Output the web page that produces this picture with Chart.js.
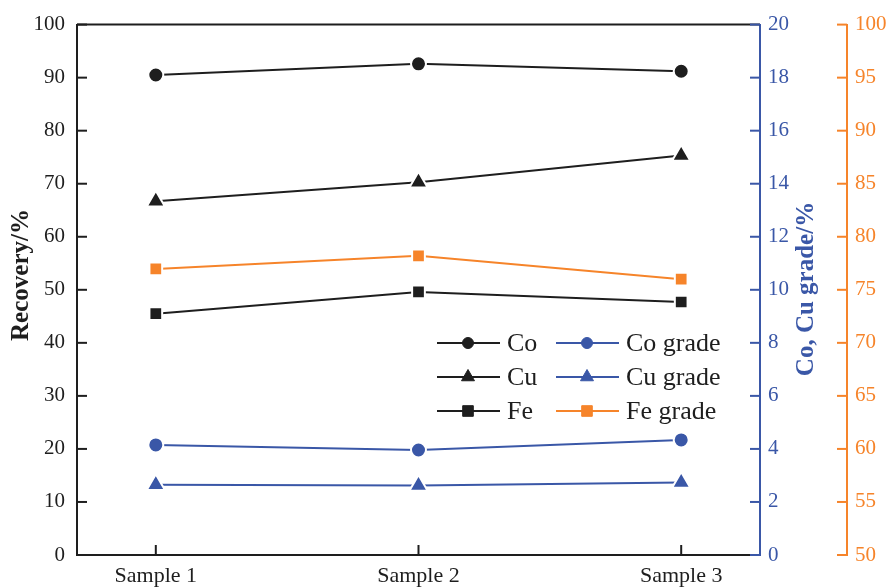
<!DOCTYPE html>
<html>
<head>
<script src="https://cdn.jsdelivr.net/npm/chart.js"></script>
<style>
  html, body { margin: 0; padding: 0; background: #fff; }
  #wrap { width: 895px; height: 587px; }
</style>
</head>
<body>
<div id="wrap"><canvas id="chart"></canvas></div>
<script>
  // data
  const samples = ['Sample 1', 'Sample 2', 'Sample 3'];
  const coRecovery = [90.5, 92.6, 91.2];
  const cuRecovery = [66.7, 70.3, 75.3];
  const feRecovery = [45.5, 49.6, 47.7];
  const coGrade = [4.15, 3.96, 4.34];
  const cuGrade = [2.65, 2.62, 2.73];
  const feGrade = [76.97, 78.2, 76.0];

  const BLACK = '#1e1e1e';
  const BLUE = '#3a57a7';
  const ORANGE = '#f6842a';
  const FONT = "'Liberation Serif', 'DejaVu Serif', serif";

  const pts = arr => arr.map((v, i) => ({ x: i, y: v }));

  function series(label, data, color, style, radius, axis) {
    return {
      label: label,
      data: pts(data),
      yAxisID: axis,
      borderColor: color,
      backgroundColor: color,
      borderWidth: 2,
      pointStyle: style,
      pointRadius: radius,
      pointHoverRadius: radius,
      pointBackgroundColor: color,
      pointBorderColor: '#fff',
      pointBorderWidth: 2,
      tension: 0
    };
  }

  // where the legend rows sit inside the plot
  const legendItems = [
    { ds: 0, col: 0, row: 0 }, { ds: 1, col: 0, row: 1 }, { ds: 2, col: 0, row: 2 },
    { ds: 3, col: 1, row: 0 }, { ds: 4, col: 1, row: 1 }, { ds: 5, col: 1, row: 2 }
  ];

  const axisDeco = {
    id: 'axisDeco',
    afterDraw(chart) {
      const { ctx, chartArea: ca, scales } = chart;
      const tick = 10;
      const line = (x1, y1, x2, y2, c) => {
        ctx.strokeStyle = c;
        ctx.beginPath(); ctx.moveTo(x1, y1); ctx.lineTo(x2, y2); ctx.stroke();
      };
      ctx.save();
      ctx.lineWidth = 2;
      // top frame
      line(ca.left, ca.top, ca.right, ca.top, BLACK);
      // inward tick marks
      scales.y.ticks.forEach(t => {
        const p = scales.y.getPixelForValue(t.value);
        line(ca.left, p, ca.left + tick, p, BLACK);
      });
      scales.yGrade.ticks.forEach(t => {
        const p = scales.yGrade.getPixelForValue(t.value);
        line(scales.yGrade.left - tick, p, scales.yGrade.left, p, BLUE);
      });
      scales.yFe.ticks.forEach(t => {
        const p = scales.yFe.getPixelForValue(t.value);
        line(scales.yFe.left - tick, p, scales.yFe.left, p, ORANGE);
      });
      scales.x.ticks.forEach(t => {
        const p = scales.x.getPixelForValue(t.value);
        line(p, ca.bottom, p, ca.bottom - tick, BLACK);
      });

      // axis titles (both read bottom-to-top)
      ctx.font = 'bold 25px ' + FONT;
      ctx.textAlign = 'center';
      ctx.textBaseline = 'middle';
      ctx.save();
      ctx.translate(22, 275);
      ctx.rotate(-Math.PI / 2);
      ctx.fillStyle = BLACK;
      ctx.fillText('Recovery/%', 0, 0);
      ctx.restore();
      ctx.save();
      ctx.translate(807, 289);
      ctx.rotate(-Math.PI / 2);
      ctx.fillStyle = BLUE;
      ctx.fillText('Co, Cu grade/%', 0, 0);
      ctx.restore();

      // legend
      const colX = [437, 556];
      const rowY = [343, 377, 411];
      ctx.font = '26px ' + FONT;
      ctx.textAlign = 'left';
      legendItems.forEach(it => {
        const d = chart.data.datasets[it.ds];
        const x = colX[it.col], y = rowY[it.row];
        line(x, y, x + 63, y, d.borderColor);
        ctx.fillStyle = d.borderColor;
        ctx.strokeStyle = d.borderColor;
        ctx.lineWidth = 1;
        Chart.helpers.drawPoint(ctx, { pointStyle: d.pointStyle, radius: d.pointStyle === 'circle' ? 5.5 : 7.5, borderWidth: 1 }, x + 31, y);
        ctx.lineWidth = 2;
        ctx.fillStyle = BLACK;
        ctx.fillText(d.label, x + 70, y + 1);
      });
      ctx.restore();
    }
  };

  new Chart(document.getElementById('chart'), {
    type: 'line',
    data: {
      datasets: [
        series('Co', coRecovery, BLACK, 'circle', 7.5, 'y'),
        series('Cu', cuRecovery, BLACK, 'triangle', 10.5, 'y'),
        series('Fe', feRecovery, BLACK, 'rect', 9, 'y'),
        series('Co grade', coGrade, BLUE, 'circle', 7.5, 'yGrade'),
        series('Cu grade', cuGrade, BLUE, 'triangle', 10.5, 'yGrade'),
        series('Fe grade', feGrade, ORANGE, 'rect', 9, 'yFe')
      ]
    },
    options: {
      responsive: true,
      maintainAspectRatio: false,
      animation: false,
      layout: { padding: { top: 22, left: 0, right: 0, bottom: 0 } },
      plugins: { legend: { display: false }, tooltip: { enabled: false } },
      scales: {
        x: {
          type: 'linear',
          min: -0.3,
          max: 2.3,
          afterBuildTicks: s => { s.ticks = samples.map((_, i) => ({ value: i })); },
          afterFit: s => { s.height = 32; },
          grid: { display: false, drawTicks: false },
          border: { display: true, color: BLACK, width: 2 },
          ticks: {
            callback: v => samples[v],
            color: BLACK,
            padding: 8,
            maxRotation: 0,
            font: { family: FONT, size: 22 }
          }
        },
        y: {
          position: 'left',
          min: 0, max: 100,
          afterFit: s => { s.width = 77; },
          grid: { display: false, drawTicks: false },
          border: { display: true, color: BLACK, width: 2 },
          ticks: { stepSize: 10, color: BLACK, padding: 12, font: { family: FONT, size: 21 } }
        },
        yGrade: {
          position: 'right',
          min: 0, max: 20,
          afterFit: s => { s.width = 87; },
          grid: { display: false, drawTicks: false },
          border: { display: true, color: BLUE, width: 2 },
          ticks: { stepSize: 2, color: BLUE, padding: 8, font: { family: FONT, size: 21 } }
        },
        yFe: {
          position: 'right',
          min: 50, max: 100,
          afterFit: s => { s.width = 48; },
          grid: { display: false, drawTicks: false },
          border: { display: true, color: ORANGE, width: 2 },
          ticks: { stepSize: 5, color: ORANGE, padding: 8, font: { family: FONT, size: 21 } }
        }
      }
    },
    plugins: [axisDeco]
  });
</script>
</body>
</html>
